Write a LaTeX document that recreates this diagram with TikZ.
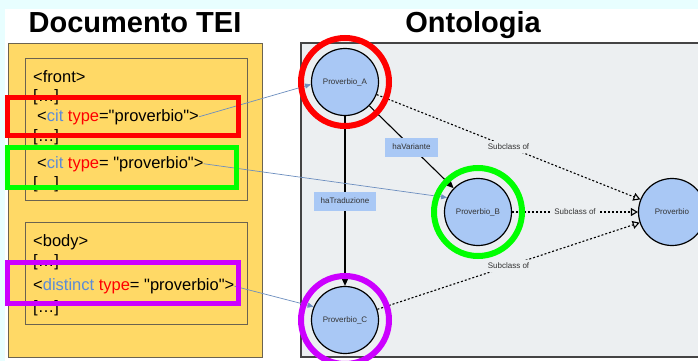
\documentclass[tikz,border=0pt]{standalone}
\usepackage{fontspec}
\setmainfont{Liberation Sans}
\usepackage{tikz}
\usetikzlibrary{arrows.meta}

\definecolor{bgcyan}{HTML}{E8FEFF}
\definecolor{teifill}{HTML}{FFD966}
\definecolor{teiline}{HTML}{6B6350}
\definecolor{ontobg}{HTML}{ECEFF1}
\definecolor{ontoline}{HTML}{444444}
\definecolor{nodeblue}{HTML}{A9C8F5}
\definecolor{textgray}{HTML}{333333}
\definecolor{linkblue}{HTML}{6C8EBF}
\definecolor{codeblue}{HTML}{5B8BD8}
\definecolor{ringred}{HTML}{FF0000}
\definecolor{ringgreen}{HTML}{00FF00}
\definecolor{ringpurple}{HTML}{CC00FF}

\newcommand{\el}{\textcolor{codeblue}}
\newcommand{\at}{\textcolor{ringred}}
\newcommand{\qq}{\textquotedbl}

\begin{document}
\begin{tikzpicture}[x=1pt,y=-1pt,
    title/.style={anchor=base, inner sep=0pt, font=\fontsize{29}{32}\selectfont\bfseries},
    code/.style={anchor=base west, inner sep=0pt, font=\fontsize{16.5}{18}\selectfont},
    concept/.style={circle, draw=black, line width=1.2pt, fill=nodeblue, minimum size=67pt,
      inner sep=0pt, text=textgray, font=\fontsize{8}{9}\selectfont},
    rel/.style={line width=1.1pt, -{Triangle[length=7pt,width=6pt]}},
    relname/.style={fill=nodeblue, inner xsep=7pt, minimum height=19pt, text=textgray,
      font=\fontsize{8}{9}\selectfont},
    sub/.style={line width=1.1pt, dash pattern=on 2pt off 2pt,
      -{Triangle[open,length=7pt,width=8pt]}},
    subname/.style={fill=ontobg, inner sep=3pt, text=textgray, font=\fontsize{8}{9}\selectfont},
    link/.style={draw=linkblue, line width=0.7pt, -{Triangle[length=6pt,width=5pt]}},
    hilite/.style={line width=5pt},
    ring/.style={line width=6pt}]
  \useasboundingbox (0,0) rectangle (698,361);
  \fill[bgcyan] (0,0) rectangle (698,361);
  \fill[white] (5,9) rectangle (698,361);

  % TEI document
  \draw[fill=teifill, draw=teiline, line width=0.8pt] (8,43) rectangle (262,357);
  \draw[draw=teiline, line width=0.8pt] (25,58) rectangle (247,200);
  \draw[draw=teiline, line width=0.8pt] (25,222) rectangle (247,324);

  % ontology
  \fill[ontobg] (301,43) rectangle (698,357);
  \draw[ontoline, line width=1.5pt] (698,43) -- (301,43) -- (301,357) -- (698,357);

  \node[title] (teititle) at (135,33) {Documento TEI};
  \node[title] (ontotitle) at (473,33) {Ontologia};

  \node[code] (front) at (33,82) {<front>};
  \node[code] (dotsa) at (33,101.5) {[…]};
  \node[code] (cita) at (37,121) {<\el{cit} \at{type}=\qq proverbio\qq>};
  \node[code] (dotsb) at (33,141) {[…]};
  \node[code] (citb) at (37,168) {<\el{cit} \at{type}= \qq proverbio\qq>};
  \node[code] (dotsc) at (33,188) {[…]};
  \node[code] (body) at (33,246.5) {<body>};
  \node[code] (dotsd) at (33,266) {[…]};
  \node[code] (dist) at (33,290.5) {<\el{distinct} \at{type}= \qq proverbio\qq>};
  \node[code] (dotse) at (33,312) {[…]};

  \node[concept] (A) at (345,82) {Proverbio\_A};
  \node[concept] (B) at (478,212) {Proverbio\_B};
  \node[concept] (C) at (345,320) {Proverbio\_C};
  \node[concept] (P) at (672,212) {Proverbio};

  \draw[rel] (A) -- node[relname] {haVariante} (B);
  \draw[rel] (A) -- node[relname] {haTraduzione} (C);
  \draw[sub] (A) -- node[subname] {Subclass of} (P);
  \draw[sub] (B) -- node[subname] {Subclass of} (P);
  \draw[sub] (C) -- node[subname] {Subclass of} (P);

  \draw[link] (cita.east) -- (A.184);
  \draw[link] (citb.east) -- (B.155);
  \draw[link] (dist.east) -- (C.157);

  \draw[hilite, ringred] (7.5,97.5) rectangle (238,135.5);
  \draw[hilite, ringgreen] (7.5,147.5) rectangle (236,187.5);
  \draw[hilite, ringpurple] (7.5,262.5) rectangle (238,303.5);

  \draw[ring, ringred] (A) circle[radius=44pt];
  \draw[ring, ringgreen] (B) circle[radius=44pt];
  \draw[ring, ringpurple] (C) circle[radius=44pt];
\end{tikzpicture}
\end{document}
